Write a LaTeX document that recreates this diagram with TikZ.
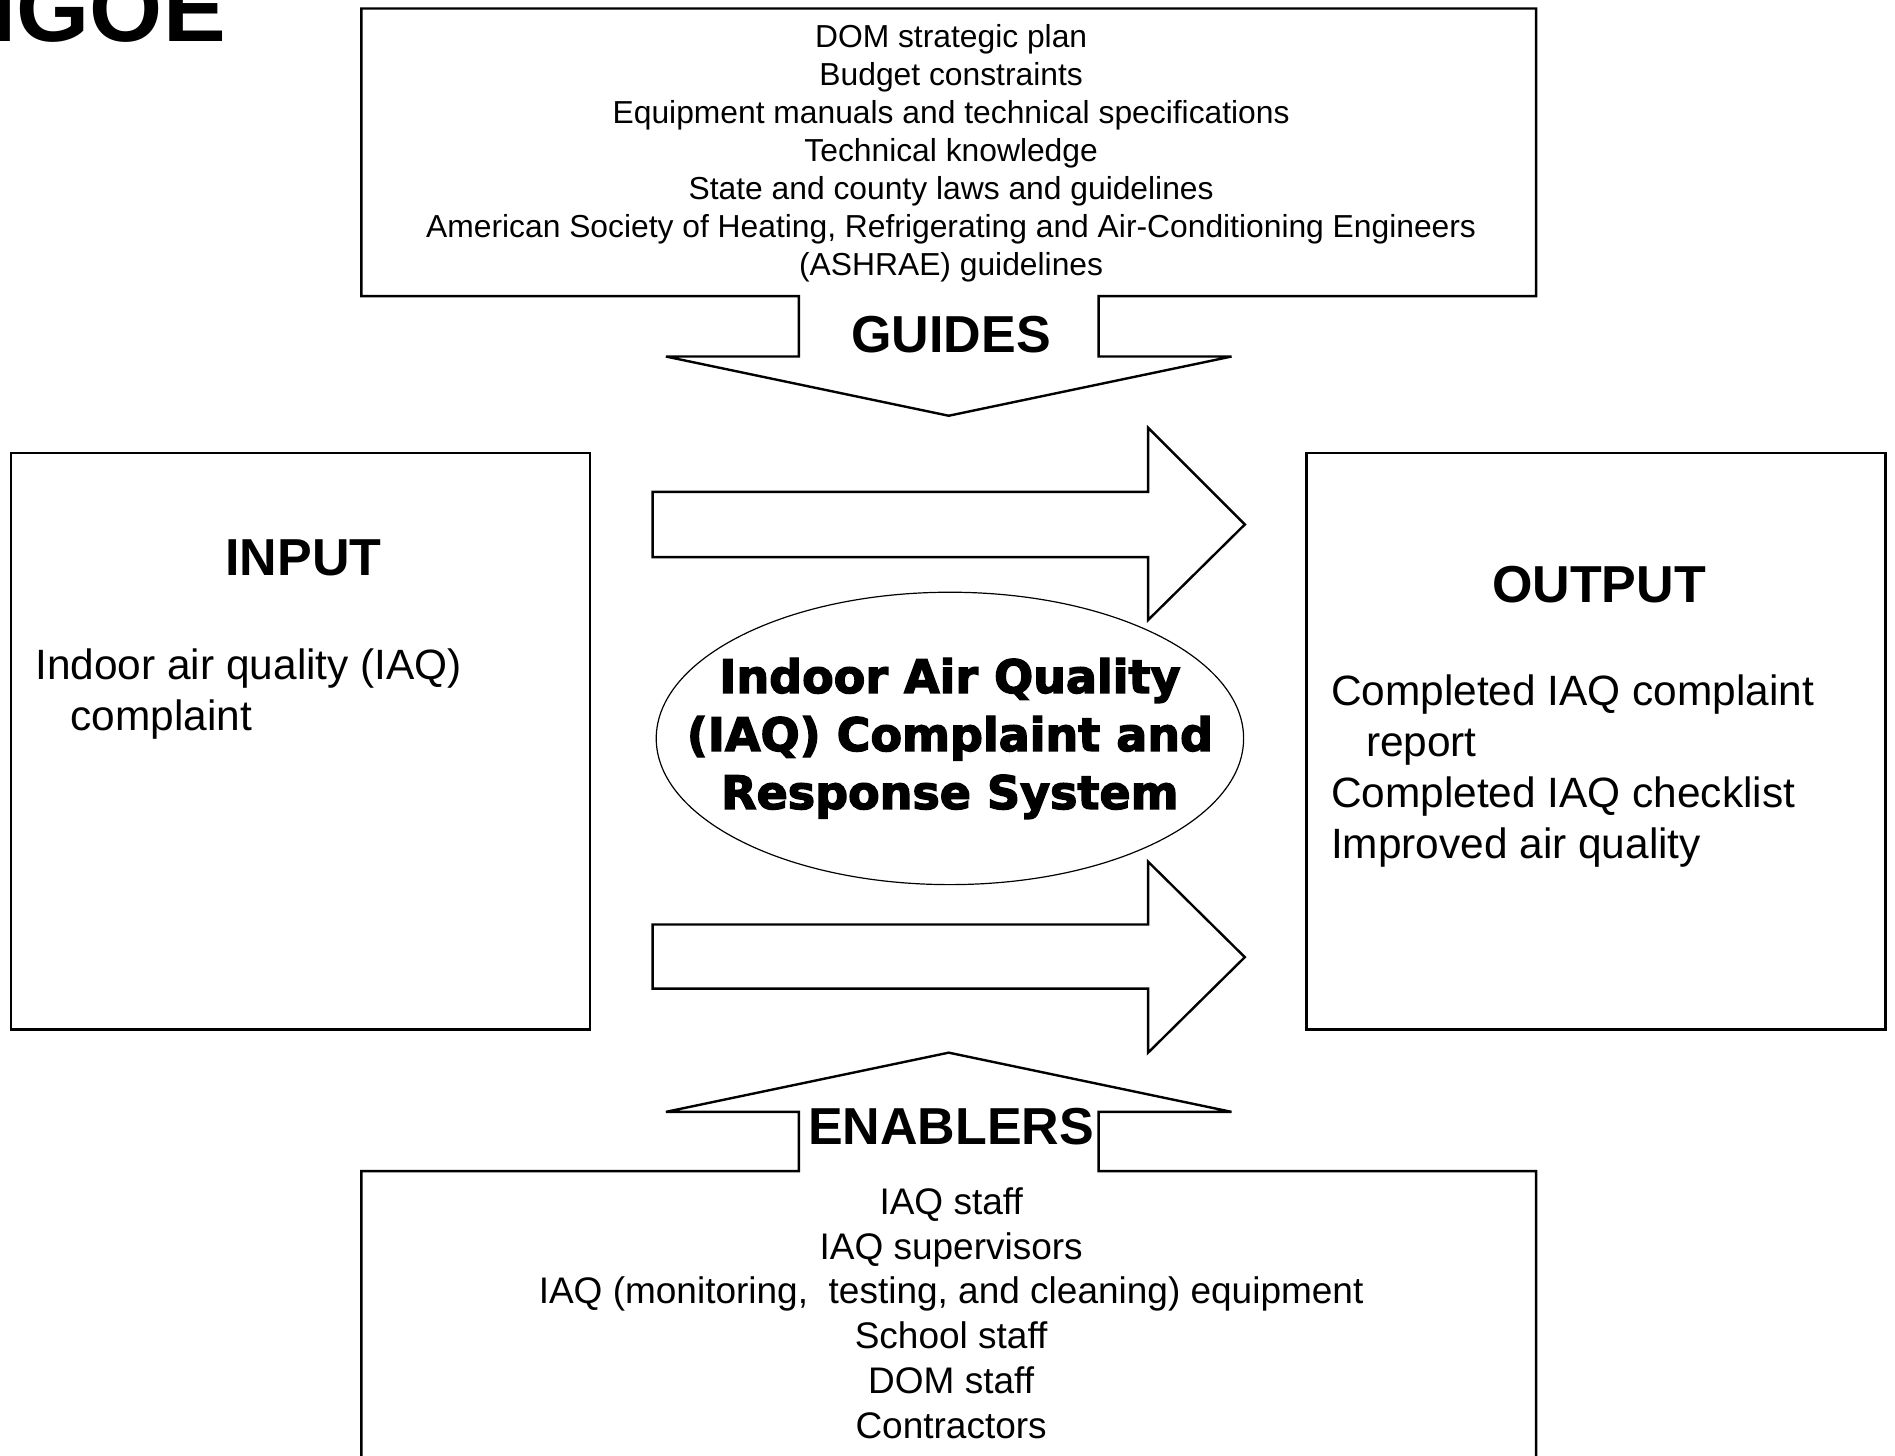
\documentclass[tikz,border=0pt]{standalone}
\usepackage{fontspec}
\setmainfont{Liberation Sans}
\newfontfamily\heavyfont{DejaVu Sans}[FakeBold=3]
\usetikzlibrary{shapes.geometric}

\begin{document}
\begin{tikzpicture}[x=0.6043pt,y=-0.6043pt,
  frame/.style={draw,line width=1.2pt,line join=miter,miter limit=4},
  heading/.style={inner sep=0pt,font=\fontsize{26}{30}\selectfont\bfseries},
  guidetext/.style={inner sep=0pt,align=center,font=\fontsize{15.9}{19}\selectfont},
  enabletext/.style={inner sep=0pt,align=center,font=\fontsize{18.5}{22.4}\selectfont},
  bodytext/.style={inner sep=0pt,align=left,anchor=west,font=\fontsize{21.2}{25.4}\selectfont}]
  \useasboundingbox (0,0) rectangle (1568,1204);

  \node[anchor=base west,inner sep=0pt,font=\fontsize{47}{50}\selectfont\bfseries] (igoe) at (-8,34) {IGOE};

  \draw[frame] (661,295) -- (661,245) -- (299,245) -- (299,7) -- (1271,7) -- (1271,245) -- (909,245)
    -- (909,295) -- (1019,295) -- (785,344) -- (551,295) -- cycle;
  \node[guidetext] (guides) at (787,127) {DOM strategic plan\\Budget constraints\\
    Equipment manuals and technical specifications\\Technical knowledge\\
    State and county laws and guidelines\\
    American Society of Heating, Refrigerating and Air-Conditioning Engineers\\
    (ASHRAE) guidelines};
  \node[heading] (guideslabel) at (787,277) {GUIDES};

  \draw[frame] (9,375) rectangle (488,852);
  \node[heading] (inputlabel) at (251,462) {INPUT};
  \node[bodytext] (input) at (29,574) {Indoor air quality (IAQ)\\\hspace*{17.5pt}complaint};

  \draw[frame] (1081,375) rectangle (1560,852);
  \node[heading] (outputlabel) at (1323,484) {OUTPUT};
  \node[bodytext] (output) at (1101,638) {Completed IAQ complaint\\\hspace*{17.5pt}report\\
    Completed IAQ checklist\\Improved air quality};

  \draw[frame] (540,407) -- (950,407) -- (950,354) -- (1030,434) -- (950,513) -- (950,461) -- (540,461) -- cycle;
  \draw[frame] (540,765) -- (950,765) -- (950,713) -- (1030,792) -- (950,871) -- (950,818) -- (540,818) -- cycle;

  \node[draw,ellipse,line width=0.6pt,inner sep=0pt,minimum width=293.7pt,minimum height=146.2pt] (sys) at (786,611) {};
  \node[inner sep=0pt,align=center,font=\heavyfont\bfseries\fontsize{23}{29}\selectfont] (systext) at (sys.center)
    {Indoor Air Quality\\(IAQ) Complaint and\\Response System};

  \draw[frame] (299,1215) -- (299,969) -- (661,969) -- (661,920) -- (551,920) -- (785,871) -- (1019,920)
    -- (909,920) -- (909,969) -- (1271,969) -- (1271,1215);
  \node[heading] (enablerslabel) at (787,932) {ENABLERS};
  \node[enabletext] (enablers) at (787,1086.5) {IAQ staff\\IAQ supervisors\\
    IAQ (monitoring,\ \ testing, and cleaning) equipment\\School staff\\DOM staff\\Contractors};
\end{tikzpicture}
\end{document}
